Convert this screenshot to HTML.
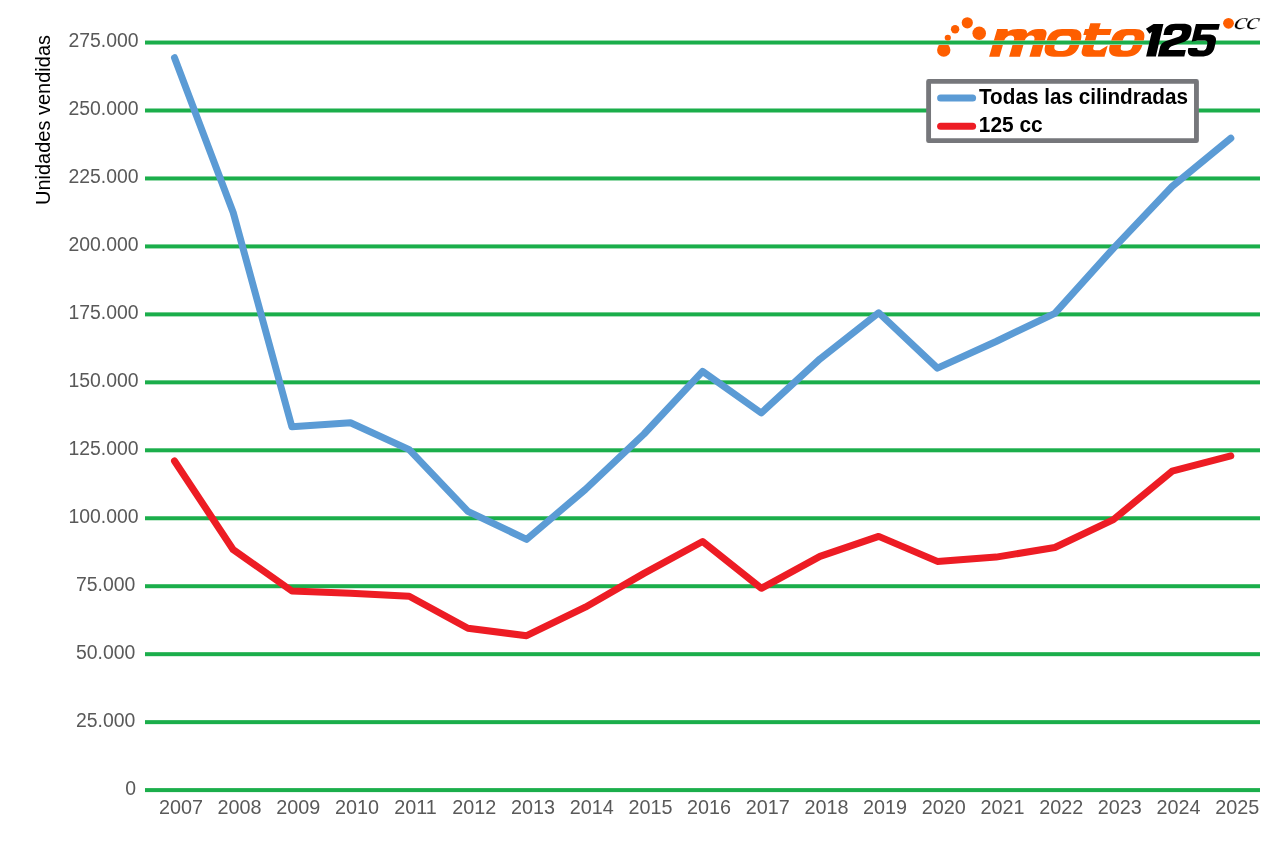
<!DOCTYPE html>
<html><head><meta charset="utf-8"><style>
html,body{margin:0;padding:0;background:#fff;}
svg{display:block;will-change:transform;}
</style></head><body>
<svg width="1280" height="853" viewBox="0 0 1280 853">
<rect width="1280" height="853" fill="#fff"/>
<g>
<rect x="145" y="788.10" width="1115" height="4" fill="#1BAE4B"/>
<rect x="145" y="720.14" width="1115" height="4" fill="#1BAE4B"/>
<rect x="145" y="652.18" width="1115" height="4" fill="#1BAE4B"/>
<rect x="145" y="584.22" width="1115" height="4" fill="#1BAE4B"/>
<rect x="145" y="516.26" width="1115" height="4" fill="#1BAE4B"/>
<rect x="145" y="448.30" width="1115" height="4" fill="#1BAE4B"/>
<rect x="145" y="380.34" width="1115" height="4" fill="#1BAE4B"/>
<rect x="145" y="312.38" width="1115" height="4" fill="#1BAE4B"/>
<rect x="145" y="244.42" width="1115" height="4" fill="#1BAE4B"/>
<rect x="145" y="176.46" width="1115" height="4" fill="#1BAE4B"/>
<rect x="145" y="108.50" width="1115" height="4" fill="#1BAE4B"/>
<rect x="145" y="40.54" width="1115" height="4" fill="#1BAE4B"/>
</g>
<g id="logo">
<clipPath id="stripe"><rect x="900" y="0" width="380" height="40.4"/><rect x="900" y="45.05" width="380" height="40"/></clipPath>
<g fill="#FE5E00" clip-path="url(#stripe)">
<circle cx="943.75" cy="50" r="6.7"/>
<circle cx="947.8" cy="37.8" r="3.1"/>
<circle cx="955.1" cy="29.25" r="4.2"/>
<circle cx="967.3" cy="22.8" r="5.6"/>
<circle cx="979.2" cy="33.25" r="6.8"/>
<circle cx="1228.5" cy="23.3" r="5.4"/>
<g transform="translate(0,56.7) skewX(-16.2) translate(0,-56.7)">
<path d="M989.1,56.7 L989.1,28.9 L999.5,28.9 L1000.6,31.5 C1003,29.5 1006,28.9 1010,28.9 L1013,28.9 C1017.5,28.9 1020,30.5 1020.1,33.5 C1022.5,30 1026,28.9 1030,28.9 L1033,28.9 C1038,28.9 1040.1,31.5 1040.1,36 L1040.1,56.7 L1029.4,56.7 L1029.4,40 C1029.4,37 1027.5,35.5 1025,35.5 C1022,35.5 1020,37.5 1020,40.5 L1020,56.7 L1009.1,56.7 L1009.1,40 C1009.1,37 1007.2,35.5 1004.7,35.5 C1001.7,35.5 999.5,37.5 999.5,40.5 L999.5,56.7 Z"/>
<path fill-rule="evenodd" d="M1054,28.9 H1064 C1071,28.9 1076,32 1076,40 V45.6 C1076,53.6 1071,56.7 1064,56.7 H1054 C1047,56.7 1042,53.6 1042,45.6 V40 C1042,32 1047,28.9 1054,28.9 Z M1057,35.7 H1061 C1064.5,35.7 1066.3,37.5 1066.3,41 V45.6 C1066.3,49.1 1064.5,50.9 1061,50.9 H1057 C1053.3,50.9 1051.4,49.1 1051.4,45.6 V41 C1051.4,37.5 1053.3,35.7 1057,35.7 Z"/>
<path d="M1080.6,23.2 H1091 V29 H1103.6 V35 H1090.7 V47.5 C1090.7,49.5 1091.5,50.2 1093.5,50.2 H1098 L1104.5,45.5 V56.7 H1087 C1082.5,56.7 1080,54 1080,50 V35 H1077 V29 H1080.6 Z"/>
<path fill-rule="evenodd" d="M1118.5,28.9 H1127 C1134,28.9 1139,32 1139,40 V45.6 C1139,53.6 1134,56.7 1127,56.7 H1118.5 C1111.5,56.7 1106.5,53.6 1106.5,45.6 V40 C1106.5,32 1111.5,28.9 1118.5,28.9 Z M1122,35.3 H1125.5 C1128.5,35.3 1129.5,37 1129.5,40.5 V45.6 C1129.5,49 1128.5,50.8 1125.5,50.8 H1122 C1119,50.8 1118,49 1118,45.6 V40.5 C1118,37 1119,35.3 1122,35.3 Z"/>
</g>
</g>
<g fill="#000" transform="translate(0,56.6) skewX(-13) translate(0,-56.6)">
<path d="M1146.1,24.1 H1155.9 V56.6 H1146.1 V31.7 L1144.1,33.8 L1139.5,28.7 Z"/>
<path d="M1157.8,56.6 L1184.3,56.6 L1184.3,50 L1167,50 C1167,47.5 1168,46.5 1171,45.5 L1179,42.5 C1183.5,41 1185.5,38.5 1185.5,34 L1185.5,31 C1185.5,26 1182,23.75 1175,23.75 L1168,23.75 C1161,23.75 1158.4,27 1158.4,31 L1158.4,35 L1167,35 L1167,32 C1167,30.5 1168.5,30.1 1171,30.1 L1173,30.1 C1175.5,30.1 1176.5,31 1176.5,33 C1176.5,35 1175.5,36.5 1172,37.5 L1164,40.5 C1159.5,42 1157.8,44 1157.8,48 Z"/>
<path d="M1188.4,24 H1212.3 V29.8 H1195.6 V34.8 C1197,34.5 1199,34.5 1201,34.5 H1203 C1209.5,34.5 1212.4,37 1212.4,42 V48 C1212.4,54 1208,56.6 1201,56.6 H1196 C1189.5,56.6 1187,54.5 1186.4,50 V48.1 H1195.3 C1195.5,49.8 1196.5,50.6 1198.5,50.6 H1201 C1203.3,50.6 1204.4,49.5 1204.4,47.5 V44 C1204.4,42 1203.5,40.6 1201,40.6 H1196 C1193,40.6 1190,41.2 1188.2,41.8 Z"/>
</g>
<text transform="translate(1233.2,29.2) skewX(-8) scale(1.3,1)" font-family="Liberation Serif, serif" font-style="italic" font-size="23.5" letter-spacing="-0.95" fill="#000" stroke="#fff" stroke-width="0.15">cc</text>
</g>

<g font-family="Liberation Sans, sans-serif" font-size="19.4" fill="#595959" text-anchor="end">
<text x="136" y="794.8">0</text>
<text x="135.3" y="726.8">25.000</text>
<text x="135.3" y="658.9">50.000</text>
<text x="135.3" y="590.9">75.000</text>
<text x="138.5" y="523.0">100.000</text>
<text x="138.5" y="455.0">125.000</text>
<text x="138.5" y="387.0">150.000</text>
<text x="138.5" y="319.1">175.000</text>
<text x="138.5" y="251.1">200.000</text>
<text x="138.5" y="183.2">225.000</text>
<text x="138.5" y="115.2">250.000</text>
<text x="138.5" y="47.2">275.000</text>
</g>
<g font-family="Liberation Sans, sans-serif" font-size="19.8" fill="#595959" text-anchor="middle">
<text x="180.9" y="814.3">2007</text>
<text x="239.6" y="814.3">2008</text>
<text x="298.3" y="814.3">2009</text>
<text x="356.9" y="814.3">2010</text>
<text x="415.6" y="814.3">2011</text>
<text x="474.3" y="814.3">2012</text>
<text x="533.0" y="814.3">2013</text>
<text x="591.7" y="814.3">2014</text>
<text x="650.4" y="814.3">2015</text>
<text x="709.0" y="814.3">2016</text>
<text x="767.7" y="814.3">2017</text>
<text x="826.4" y="814.3">2018</text>
<text x="885.1" y="814.3">2019</text>
<text x="943.8" y="814.3">2020</text>
<text x="1002.5" y="814.3">2021</text>
<text x="1061.2" y="814.3">2022</text>
<text x="1119.8" y="814.3">2023</text>
<text x="1178.5" y="814.3">2024</text>
<text x="1237.2" y="814.3">2025</text>
</g>
<text transform="translate(49.9,120) rotate(-90)" font-family="Liberation Sans, sans-serif" font-size="20" fill="#000" text-anchor="middle">Unidades vendidas</text>
<polyline points="174.5,57.7 233.2,212.5 291.9,426.8 350.5,422.8 409.2,449.6 467.9,511.3 526.6,539.4 585.3,489.5 644.0,434.0 702.6,371.4 761.3,413.0 820.0,358.9 878.7,312.8 937.4,368.1 996.1,341.5 1054.8,313.3 1113.4,248.3 1172.1,186.5 1230.8,138.3" fill="none" stroke="#5B9BD5" stroke-width="7" stroke-linejoin="round" stroke-linecap="round"/>
<polyline points="174.5,461.0 233.2,549.7 291.9,591.0 350.5,593.2 409.2,596.3 467.9,628.3 526.6,635.7 585.3,607.2 644.0,573.4 702.6,541.5 761.3,588.3 820.0,556.4 878.7,536.4 937.4,561.4 996.1,557.1 1054.8,547.5 1113.4,519.6 1172.1,471.2 1230.8,455.9" fill="none" stroke="#ED1C24" stroke-width="7" stroke-linejoin="round" stroke-linecap="round"/>
<rect x="928.6" y="81.4" width="267.85" height="59.25" fill="#fff" stroke="#76777B" stroke-width="4.85" stroke-linejoin="round"/>
<line x1="940.6" y1="98.1" x2="972.6" y2="98.1" stroke="#5B9BD5" stroke-width="7" stroke-linecap="round"/>
<line x1="940.6" y1="126.3" x2="972.6" y2="126.3" stroke="#ED1C24" stroke-width="7" stroke-linecap="round"/>
<g font-family="Liberation Sans, sans-serif" font-size="21.4" font-weight="bold" fill="#000">
<text x="979" y="103.9" textLength="209" lengthAdjust="spacingAndGlyphs">Todas las cilindradas</text>
<text x="978.8" y="132.2" textLength="63.8" lengthAdjust="spacingAndGlyphs">125 cc</text>
</g>
</svg>
</body></html>
